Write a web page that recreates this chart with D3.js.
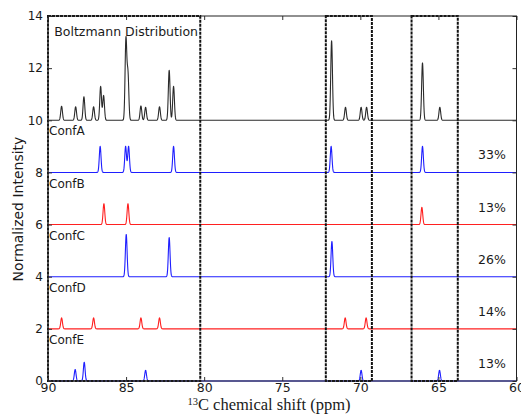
<!DOCTYPE html>
<html>
<head>
<meta charset="utf-8">
<script src="https://cdn.jsdelivr.net/npm/d3@7"></script>
<style>
  html, body { margin: 0; padding: 0; background: #fff; }
  svg { display: block; }
  text { font-family: "DejaVu Sans", sans-serif; fill: #1a1a1a; }
</style>
</head>
<body>
<svg id="chart" width="521" height="415"></svg>
<script>
// 13C NMR spectra: Boltzmann-weighted sum and five conformers (offset stacks)

// Peak positions (ppm) and heights for each trace
const boltzPpm    = [89.13, 88.23, 87.70, 87.08, 86.63, 86.44, 85.01, 84.88, 84.05, 83.75, 82.86, 82.24, 81.96, 71.84, 70.95, 69.95, 69.60, 66.02, 64.91];
const boltzHeight = [0.54, 0.52, 0.90, 0.52, 1.30, 0.95, 3.10, 1.75, 0.55, 0.50, 0.52, 1.92, 1.30, 3.05, 0.50, 0.50, 0.50, 2.20, 0.50];

const confAPpm    = [86.66, 85.03, 84.84, 81.96, 71.87, 66.02];
const confAHeight = [1.00, 1.00, 1.00, 1.00, 1.00, 1.00];

const confBPpm    = [86.42, 84.88, 66.06];
const confBHeight = [0.80, 0.80, 0.66];

const confCPpm    = [84.99, 82.24, 71.82];
const confCHeight = [1.62, 1.50, 1.35];

const confDPpm    = [89.13, 87.08, 84.05, 82.86, 70.97, 69.63];
const confDHeight = [0.42, 0.42, 0.42, 0.42, 0.42, 0.42];

const confEPpm    = [88.26, 87.68, 83.75, 69.95, 64.93];
const confEHeight = [0.44, 0.72, 0.41, 0.41, 0.41];

// Conformer names, stack offsets and Boltzmann populations
const confNames   = ["ConfA", "ConfB", "ConfC", "ConfD", "ConfE"];
const confOffsets = [8, 6, 4, 2, 0];
const confWeights = ["33%", "13%", "26%", "14%", "13%"];
const boltzOffset = 10;

// Highlighted regions (ppm ranges)
const regionStart = [90.0, 72.21, 66.72];
const regionEnd   = [80.25, 69.26, 63.76];

// Axis ticks
const xTicks = [90, 85, 80, 75, 70, 65, 60];
const yTicks = [0, 2, 4, 6, 8, 10, 12, 14];

const svg = d3.select("#chart");
const plotLeft = 48, plotRight = 516.5, plotTop = 16, plotBottom = 381;

const x = d3.scaleLinear().domain([90, 60]).range([plotLeft, plotRight]);
const y = d3.scaleLinear().domain([0, 14]).range([plotBottom, plotTop]);

// Spectrum line built from a peak list (narrow Gaussian line shape)
const lineWidthPpm = 0.055;
const grid = d3.range(90, 59.995, -0.01);
function spectrum(ppm, height, offset) {
  return grid.map(s => {
    let v = 0;
    for (let i = 0; i < ppm.length; i++) {
      const d = (s - ppm[i]) / lineWidthPpm;
      if (Math.abs(d) < 6) v += height[i] * Math.exp(-0.5 * d * d);
    }
    return [s, offset + v];
  });
}

const line = d3.line().x(d => x(d[0])).y(d => y(d[1]));

const traces = [
  { ppm: boltzPpm, h: boltzHeight, off: boltzOffset, color: "#2b2b2b" },
  { ppm: confAPpm, h: confAHeight, off: confOffsets[0], color: "#1f1fff" },
  { ppm: confBPpm, h: confBHeight, off: confOffsets[1], color: "#ff2020" },
  { ppm: confCPpm, h: confCHeight, off: confOffsets[2], color: "#1f1fff" },
  { ppm: confDPpm, h: confDHeight, off: confOffsets[3], color: "#ff2020" },
  { ppm: confEPpm, h: confEHeight, off: confOffsets[4], color: "#1f1fff" }
];

svg.append("defs").append("clipPath").attr("id", "plot-clip")
  .append("rect").attr("x", plotLeft).attr("y", plotTop - 2)
  .attr("width", plotRight - plotLeft).attr("height", plotBottom - plotTop + 3);

const plot = svg.append("g").attr("clip-path", "url(#plot-clip)");
traces.forEach(t => {
  plot.append("path")
    .datum(spectrum(t.ppm, t.h, t.off))
    .attr("fill", "none")
    .attr("stroke", t.color)
    .attr("stroke-width", 1.1)
    .attr("stroke-linejoin", "round")
    .attr("d", line);
});

// Dashed region boxes
regionStart.forEach((s, i) => {
  svg.append("rect")
    .attr("x", x(s))
    .attr("y", y(14))
    .attr("width", x(regionEnd[i]) - x(s))
    .attr("height", y(0) - y(14))
    .attr("fill", "none")
    .attr("stroke", "#111")
    .attr("stroke-width", 2)
    .attr("stroke-dasharray", "3,1");
});

// Axes with inward ticks on all four sides
const tickLen = 4;
svg.append("g").attr("transform", `translate(0,${plotBottom})`)
  .call(d3.axisBottom(x).tickValues(xTicks).tickSize(-tickLen).tickPadding(4).tickFormat(d3.format("d")))
  .call(g => g.select(".domain").remove())
  .call(g => g.selectAll("text").attr("font-size", 12.5).attr("dy", "0.71em").attr("y", 2));
svg.append("g").attr("transform", `translate(0,${plotTop})`)
  .call(d3.axisTop(x).tickValues(xTicks).tickSize(-tickLen).tickFormat(""))
  .call(g => g.select(".domain").remove());
svg.append("g").attr("transform", `translate(${plotLeft},0)`)
  .call(d3.axisLeft(y).tickValues(yTicks).tickSize(-tickLen).tickPadding(5).tickFormat(d3.format("d")))
  .call(g => g.select(".domain").remove())
  .call(g => g.selectAll("text").attr("font-size", 12).attr("x", -5));
svg.append("g").attr("transform", `translate(${plotRight},0)`)
  .call(d3.axisRight(y).tickValues(yTicks).tickSize(-tickLen).tickFormat(""))
  .call(g => g.select(".domain").remove());
svg.selectAll(".tick line").attr("stroke", "#333");
svg.selectAll(".tick text").attr("fill", "#1a1a1a").attr("font-family", "DejaVu Sans, sans-serif");

// Frame
svg.append("rect")
  .attr("x", plotLeft).attr("y", plotTop)
  .attr("width", plotRight - plotLeft).attr("height", plotBottom - plotTop)
  .attr("fill", "none").attr("stroke", "#222").attr("stroke-width", 1);

// Trace labels
svg.append("text")
  .attr("x", x(89.6)).attr("y", y(13.23))
  .attr("font-size", 12.5)
  .text("Boltzmann Distribution");

confNames.forEach((name, i) => {
  svg.append("text")
    .attr("x", plotLeft + 1)
    .attr("y", y(confOffsets[i] + 2 - 0.58))
    .attr("font-size", 12)
    .text(name);
  svg.append("text")
    .attr("x", x(60.68))
    .attr("y", y(confOffsets[i] + 0.5))
    .attr("text-anchor", "end")
    .attr("font-size", 12.5)
    .text(confWeights[i]);
});

// Axis titles
svg.append("text")
  .attr("transform", `translate(23,209) rotate(-90)`)
  .attr("text-anchor", "middle")
  .attr("font-size", 14)
  .text("Normalized Intensity");

const xt = svg.append("text")
  .attr("x", 269).attr("y", 410)
  .attr("text-anchor", "middle")
  .style("font-family", "'Liberation Serif', 'Times New Roman', serif")
  .attr("font-size", 16.5);
xt.append("tspan").attr("font-size", 10.5).attr("dy", -5.5).text("13");
xt.append("tspan").attr("dy", 5.5).text("C chemical shift (ppm)");
</script>
</body>
</html>
